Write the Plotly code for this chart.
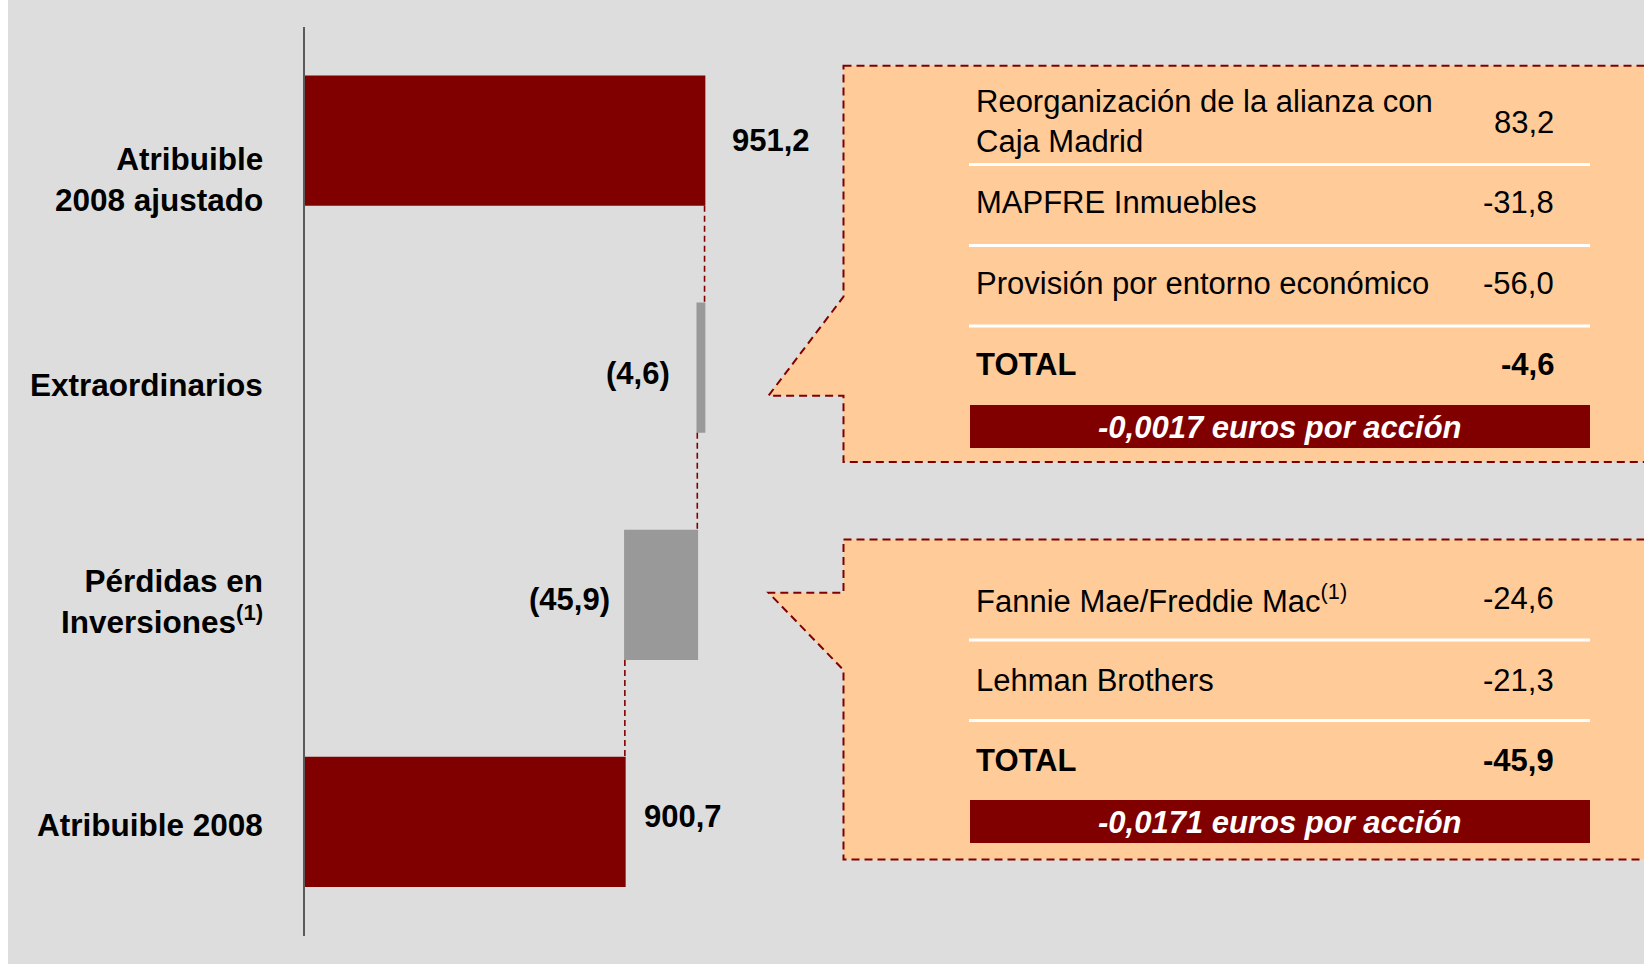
import plotly.graph_objects as go

# ---------------- data ----------------
categories = ["Atribuible 2008 ajustado", "Extraordinarios", "Pérdidas en Inversiones", "Atribuible 2008"]
category_labels = ["Atribuible<br>2008 ajustado", "Extraordinarios",
                   "Pérdidas en<br>Inversiones<sup>(1)</sup>", "Atribuible 2008"]
values = [951.2, -4.6, -45.9, 900.7]
measures = ["absolute", "relative", "relative", "total"]

extra_items = ["Reorganización de la alianza con<br>Caja Madrid", "MAPFRE Inmuebles",
               "Provisión por entorno económico"]
extra_values = [83.2, -31.8, -56.0]
extra_total = -4.6
extra_per_share = -0.0017

inv_items = ["Fannie Mae/Freddie Mac<sup>(1)</sup>", "Lehman Brothers"]
inv_values = [-24.6, -21.3]
inv_total = -45.9
inv_per_share = -0.0171

# ---------------- styling ----------------
W, H = 1644, 964
FONT = "Arial, Liberation Sans, sans-serif"
FS = 31
DARKRED = "#800000"
GREY_BAR = "#999999"
BG = "#DDDDDD"
PEACH = "#FFCC99"


def px(x):
    return x / W


def py(y):
    return 1 - y / H


def fmt(v):
    return f"{v:.1f}".replace(".", ",")


def fmt_bar(v):
    s = f"{abs(v):.1f}".replace(".", ",")
    return f"({s})" if v < 0 else s


fig = go.Figure()
fig.add_trace(go.Waterfall(
    orientation="h",
    y=categories,
    x=values,
    measure=measures,
    decreasing=dict(marker=dict(color=GREY_BAR, line=dict(width=0))),
    increasing=dict(marker=dict(color=GREY_BAR, line=dict(width=0))),
    totals=dict(marker=dict(color=DARKRED, line=dict(width=0))),
    connector=dict(line=dict(color=DARKRED, width=1.6, dash="6px,4px")),
    textinfo="none",
    textposition="none",
    hoverinfo="skip",
))

annotations = []
shapes = []

# white strip on the left
shapes.append(dict(type="rect", xref="paper", yref="paper", x0=0, x1=px(8), y0=0, y1=1,
                   fillcolor="white", line=dict(width=0), layer="below"))

# category labels
cat_yshift = [-39, -17, -7, -3]
for cat, lab, ys in zip(categories, category_labels, cat_yshift):
    annotations.append(dict(xref="paper", x=px(265), yref="y", y=cat, yshift=ys,
                            xanchor="right", yanchor="middle", align="right",
                            text=f"<b>{lab}</b>", showarrow=False,
                            font=dict(family=FONT, size=31.5, color="black")))

# value labels (positioned at bar ends through the x axis)
running = 0
ends = []
for v, m in zip(values, measures):
    if m == "absolute":
        start, running = 0, v
    elif m == "relative":
        start, running = running, running + v
    else:
        start = 0
    ends.append((start, running))

lab_anchor = ["left", "right", "right", "left"]
lab_xshift = [25, -25, -13, 17]
lab_yshift = [0, -6, -5, 5]
for i, cat in enumerate(categories):
    start, end = ends[i]
    if measures[i] == "relative":
        xpos = end if lab_anchor[i] == "right" else start
    else:
        xpos = end
    val = values[i] if measures[i] != "total" else end
    annotations.append(dict(xref="x", x=xpos, yref="y", y=cat,
                            xshift=lab_xshift[i], yshift=lab_yshift[i],
                            xanchor=lab_anchor[i], yanchor="middle",
                            text=f"<b>{fmt_bar(val)}</b>", showarrow=False,
                            font=dict(family=FONT, size=FS, color="black")))


def callout(top, bottom, tip_y, join_y, join_above):
    edge = 843.5
    tip_x = 768.5
    right = 1660
    if join_above:
        path = (f"M {px(edge)},{py(top)} L {px(right)},{py(top)} L {px(right)},{py(bottom)} "
                f"L {px(edge)},{py(bottom)} L {px(edge)},{py(tip_y)} L {px(tip_x)},{py(tip_y)} "
                f"L {px(edge)},{py(join_y)} Z")
    else:
        path = (f"M {px(edge)},{py(top)} L {px(right)},{py(top)} L {px(right)},{py(bottom)} "
                f"L {px(edge)},{py(bottom)} L {px(edge)},{py(join_y)} L {px(tip_x)},{py(tip_y)} "
                f"L {px(edge)},{py(tip_y)} Z")
    shapes.append(dict(type="path", xref="paper", yref="paper", path=path,
                       fillcolor=PEACH, line=dict(color=DARKRED, width=2, dash="8px,5px"),
                       layer="below"))


def separator(y):
    shapes.append(dict(type="line", xref="paper", yref="paper", x0=px(969), x1=px(1590),
                       y0=py(y), y1=py(y), line=dict(color="white", width=3)))


def band(y0, y1, text):
    shapes.append(dict(type="rect", xref="paper", yref="paper", x0=px(970), x1=px(1590),
                       y0=py(y1), y1=py(y0), fillcolor=DARKRED, line=dict(width=0)))
    annotations.append(dict(xref="paper", yref="paper", x=px(1280), y=py((y0 + y1) / 2 + 0.5),
                            xanchor="center", yanchor="middle", showarrow=False,
                            text=f"<b><i>{text}</i></b>",
                            font=dict(family=FONT, size=FS, color="white")))


def row(label, value, y_label, y_value, bold=False):
    t_lab = f"<b>{label}</b>" if bold else label
    t_val = f"<b>{value}</b>" if bold else value
    annotations.append(dict(xref="paper", yref="paper", x=px(974), y=py(y_label),
                            xanchor="left", yanchor="middle", align="left", showarrow=False,
                            text=t_lab, font=dict(family=FONT, size=FS, color="black")))
    annotations.append(dict(xref="paper", yref="paper", x=px(1556), y=py(y_value),
                            xanchor="right", yanchor="middle", align="right", showarrow=False,
                            text=t_val, font=dict(family=FONT, size=FS, color="black")))


# callout 1 : Extraordinarios
callout(65.7, 462, 395.7, 296.7, join_above=True)
for it, v, yl, yv in zip(extra_items, extra_values, [121.6, 202.5, 283.5], [123, 202.5, 283.5]):
    row(it, fmt(v), yl, yv)
for y in [164.5, 245.5, 326]:
    separator(y)
row("TOTAL", fmt(extra_total), 364, 364, bold=True)
band(405, 448, f"{extra_per_share:.4f}".replace(".", ",") + " euros por acción")

# callout 2 : Pérdidas en inversiones
callout(539.5, 859.5, 592.7, 670, join_above=False)
for it, v, yl, yv in zip(inv_items, inv_values, [598.5, 680], [598.5, 680]):
    row(it, fmt(v), yl, yv)
for y in [640, 720.5]:
    separator(y)
row("TOTAL", fmt(inv_total), 760, 760, bold=True)
band(800, 843, f"{inv_per_share:.4f}".replace(".", ",") + " euros por acción")

fig.update_layout(
    width=W, height=H,
    margin=dict(l=0, r=0, t=0, b=0),
    paper_bgcolor=BG, plot_bgcolor=BG,
    showlegend=False,
    waterfallgap=0.427,
    hovermode=False,
    xaxis=dict(domain=[px(305), 1], range=[698, 698 + (W - 305) / 1.578],
               visible=False, fixedrange=True),
    yaxis=dict(domain=[py(935.5), py(27)], range=[3.5, -0.5], type="category",
               showticklabels=False, ticks="", showgrid=False, zeroline=False,
               showline=True, linecolor="#5a5a5a", linewidth=1.5, fixedrange=True),
    annotations=annotations,
    shapes=shapes,
)

fig.write_html("out.html",
               config={"displayModeBar": False},
               post_script="document.body.style.margin='0';document.body.style.overflow='hidden';")
